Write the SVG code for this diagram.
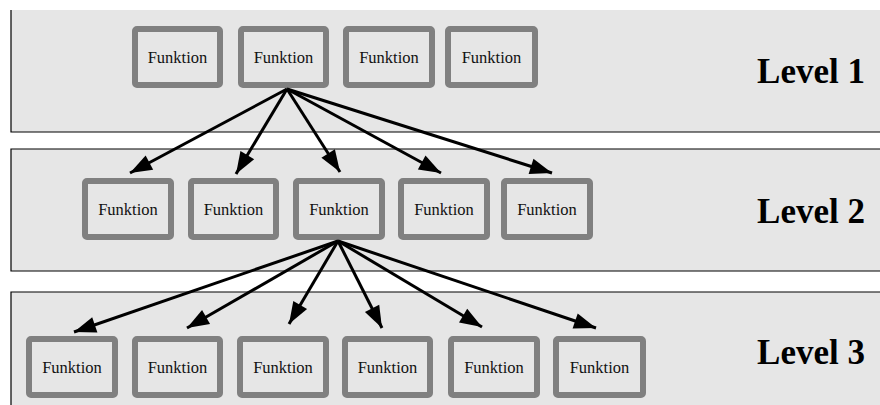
<svg xmlns="http://www.w3.org/2000/svg" width="880" height="405" viewBox="0 0 880 405">
<style>
.band{fill:#e6e6e6}
.edge{stroke:#000;stroke-width:1.2;fill:none}
.box{fill:#e6e6e6;stroke:#808080;stroke-width:6}
.ft{font-family:"Liberation Serif","Times New Roman",serif;font-size:16.5px;fill:#111;text-anchor:middle}
.lv{font-family:"Liberation Serif","Times New Roman",serif;font-size:35px;font-weight:bold;fill:#000;text-anchor:end}
.ar{stroke:#000;stroke-width:3;fill:none;marker-end:url(#ah)}
</style>
<defs>
<marker id="ah" markerUnits="userSpaceOnUse" markerWidth="24" markerHeight="18" refX="22" refY="8" orient="auto" overflow="visible">
<path d="M0,0 L22,8 L0,16 Z" fill="#000"/>
</marker>
</defs>
<rect width="880" height="405" fill="#fff"/>
<g id="bands">
<rect class="band" x="11" y="10" width="869" height="122"/>
<path class="edge" d="M11,10 V132 H880"/>
<rect class="band" x="11" y="149" width="869" height="122"/>
<path class="edge" d="M880,149 H11 V271 H880"/>
<rect class="band" x="11" y="292" width="869" height="113"/>
<path class="edge" d="M880,292 H11 V405"/>
</g>
<g id="l1a"><rect class="box" x="135" y="29" width="85" height="56" rx="2"/><text class="ft" x="177.5" y="62.5">Funktion</text></g>
<g id="l1b"><rect class="box" x="241" y="29" width="85" height="56" rx="2"/><text class="ft" x="283.5" y="62.5">Funktion</text></g>
<g id="l1c"><rect class="box" x="346" y="29" width="86" height="56" rx="2"/><text class="ft" x="389" y="62.5">Funktion</text></g>
<g id="l1d"><rect class="box" x="448" y="29" width="87" height="56" rx="2"/><text class="ft" x="491.5" y="62.5">Funktion</text></g>
<g id="lev1"><text class="lv" x="865" y="83">Level 1</text></g>
<g id="l2a"><rect class="box" x="85" y="181" width="86" height="56" rx="2"/><text class="ft" x="128" y="215">Funktion</text></g>
<g id="l2b"><rect class="box" x="191" y="181" width="85" height="56" rx="2"/><text class="ft" x="233.5" y="215">Funktion</text></g>
<g id="l2c"><rect class="box" x="296" y="181" width="86" height="56" rx="2"/><text class="ft" x="339" y="215">Funktion</text></g>
<g id="l2d"><rect class="box" x="401" y="181" width="86" height="56" rx="2"/><text class="ft" x="444" y="215">Funktion</text></g>
<g id="l2e"><rect class="box" x="504" y="181" width="86" height="56" rx="2"/><text class="ft" x="547" y="215">Funktion</text></g>
<g id="lev2"><text class="lv" x="865" y="223">Level 2</text></g>
<g id="l3a"><rect class="box" x="29" y="339" width="86" height="56" rx="2"/><text class="ft" x="72" y="373">Funktion</text></g>
<g id="l3b"><rect class="box" x="135" y="339" width="85" height="56" rx="2"/><text class="ft" x="177.5" y="373">Funktion</text></g>
<g id="l3c"><rect class="box" x="240" y="339" width="86" height="56" rx="2"/><text class="ft" x="283" y="373">Funktion</text></g>
<g id="l3d"><rect class="box" x="345" y="339" width="85" height="56" rx="2"/><text class="ft" x="387.5" y="373">Funktion</text></g>
<g id="l3e"><rect class="box" x="451" y="339" width="86" height="56" rx="2"/><text class="ft" x="494" y="373">Funktion</text></g>
<g id="l3f"><rect class="box" x="556" y="339" width="87" height="56" rx="2"/><text class="ft" x="599.5" y="373">Funktion</text></g>
<g id="lev3"><text class="lv" x="865" y="364">Level 3</text></g>
<g id="connectors">
<path class="ar" d="M287,89 L130,173"/>
<path class="ar" d="M287,89 L236,174"/>
<path class="ar" d="M287,89 L340,172"/>
<path class="ar" d="M287,89 L441,173"/>
<path class="ar" d="M287,89 L552,173"/>
<path class="ar" d="M338,241 L74,332"/>
<path class="ar" d="M338,241 L187,328"/>
<path class="ar" d="M338,241 L289,324"/>
<path class="ar" d="M338,241 L382,328"/>
<path class="ar" d="M338,241 L482,327"/>
<path class="ar" d="M338,241 L596,328"/>
</g>
</svg>
